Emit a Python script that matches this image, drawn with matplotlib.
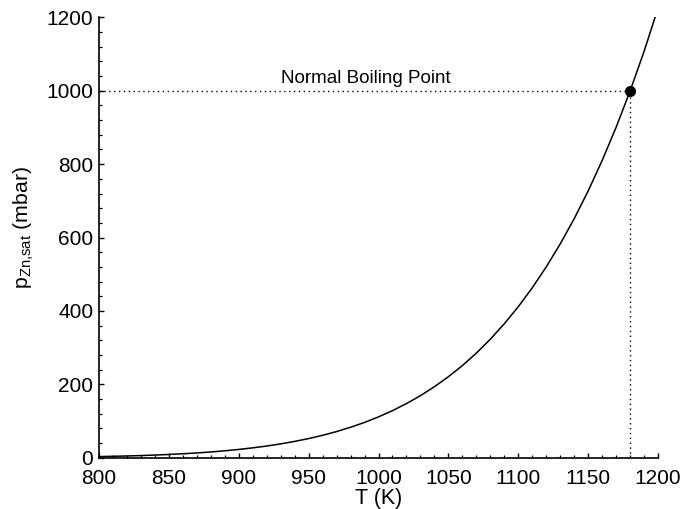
import matplotlib
matplotlib.use("Agg")
import matplotlib.pyplot as plt
from matplotlib.ticker import MultipleLocator

plt.rcParams['font.family'] = ['Liberation Sans', 'DejaVu Sans']
plt.rcParams['mathtext.fontset'] = 'custom'
plt.rcParams['mathtext.rm'] = 'Liberation Sans'
plt.rcParams['mathtext.it'] = 'Liberation Sans:italic'

# Saturation vapour pressure of zinc
temperature_K = [800, 810, 820, 830, 840, 850, 860, 870, 880, 890,
                 900, 910, 920, 930, 940, 950, 960, 970, 980, 990,
                 1000, 1010, 1020, 1030, 1040, 1050, 1060, 1070, 1080, 1090,
                 1100, 1110, 1120, 1130, 1140, 1150, 1160, 1170, 1180, 1190,
                 1200]
pressure_mbar = [3.0, 3.8, 4.7, 5.8, 7.2, 8.8, 10.7, 12.9, 15.6, 18.8,
                 22.5, 26.8, 31.8, 37.6, 44.4, 52.1, 61.0, 71.2, 82.9, 96.1,
                 111.2, 128.2, 147.5, 169.1, 193.5, 220.7, 251.1, 285.1, 323.0, 365.1,
                 411.7, 463.2, 520.1, 582.8, 651.7, 727.4, 810.3, 901.0, 1000.0, 1108.0,
                 1226.0]

boiling_T = 1180
boiling_p = 1000
boiling_label = "Normal Boiling Point"

x_ticks = [800, 850, 900, 950, 1000, 1050, 1100, 1150, 1200]
y_ticks = [0, 200, 400, 600, 800, 1000, 1200]

fig = plt.figure(figsize=(6.82, 5.09), dpi=100)
ax = fig.add_axes([0.145, 0.1008, 0.820, 0.865])

ax.plot(temperature_K, pressure_mbar, color='black', lw=1.1, zorder=3)

dots = (0, (1, 2.5))
ax.plot([800, boiling_T], [boiling_p, boiling_p], color='black', lw=1.0,
        linestyle=dots, zorder=2)
ax.plot([boiling_T, boiling_T], [0, boiling_p], color='black', lw=1.0,
        linestyle=dots, zorder=2)
ax.plot([boiling_T], [boiling_p], 'o', color='black', ms=7, zorder=4)
ax.text(991, 1021, boiling_label, ha='center', va='baseline', fontsize=13.6)

ax.set_xlim(800, 1200)
ax.set_ylim(0, 1200)
ax.set_xticks(x_ticks)
ax.set_yticks(y_ticks)
ax.xaxis.set_minor_locator(MultipleLocator(10))
ax.yaxis.set_minor_locator(MultipleLocator(40))

for side in ('top', 'right'):
    ax.spines[side].set_visible(False)
for side in ('left', 'bottom'):
    ax.spines[side].set_linewidth(1.2)

ax.tick_params(which='major', direction='in', length=3.8, width=1.0,
               labelsize=15, colors='black')
ax.tick_params(which='minor', direction='in', length=2.2, width=0.9)
ax.tick_params(axis='x', which='major', pad=8.5)
ax.tick_params(axis='y', which='major', pad=4.0)

ax.set_xlabel("T (K)", fontsize=15.5, labelpad=0)
ax.set_ylabel(r"p$_{\mathregular{Zn{,}sat}}$ (mbar)", fontsize=15.3)
ax.yaxis.set_label_coords(-0.112, 0.523)

fig.savefig("out.png", dpi=100)
